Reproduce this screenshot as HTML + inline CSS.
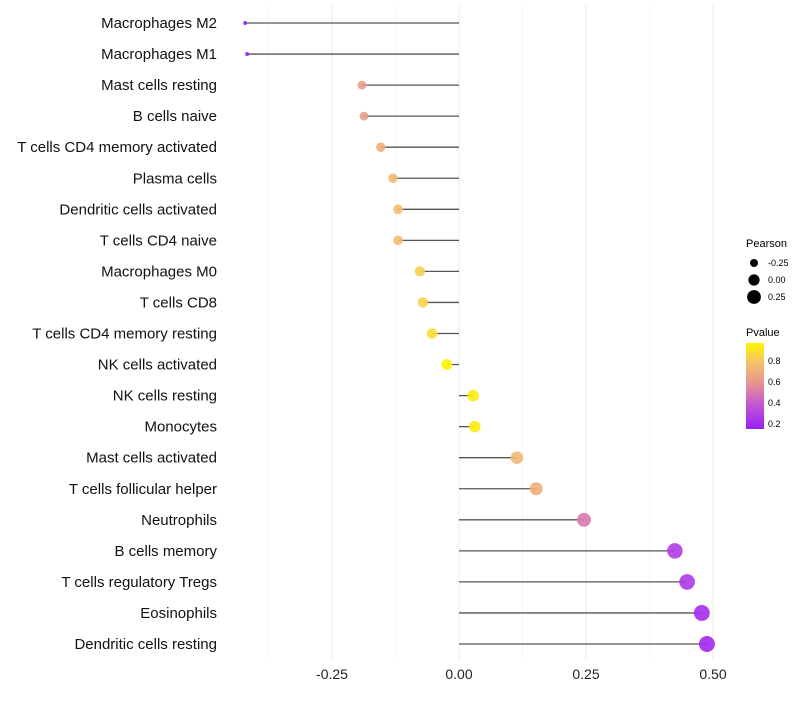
<!DOCTYPE html>
<html><head><meta charset="utf-8"><style>
body{margin:0;background:#fff;font-family:"Liberation Sans",sans-serif}
</style></head><body>
<svg id="c" width="800" height="700" xmlns="http://www.w3.org/2000/svg" font-family="Liberation Sans, sans-serif">
<defs><linearGradient id="pg" x1="0" y1="1" x2="0" y2="0">
<stop offset="0" stop-color="#9a1ef5"/><stop offset="0.3" stop-color="#c75ad0"/><stop offset="0.55" stop-color="#e8988c"/><stop offset="0.78" stop-color="#f5c46a"/><stop offset="1" stop-color="#fff500"/></linearGradient></defs>
<g id="grid"></g><g id="marks"></g><g id="labels"></g>
<g font-size="10">
<text x="746" y="247" font-size="11">Pearson</text>
<circle cx="754" cy="263" r="4" fill="#000"/><text x="768" y="266" font-size="9">-0.25</text>
<circle cx="754" cy="280" r="5.6" fill="#000"/><text x="768" y="283" font-size="9">0.00</text>
<circle cx="754" cy="297" r="6.9" fill="#000"/><text x="768" y="300" font-size="9">0.25</text>
<text x="746" y="336" font-size="11">Pvalue</text>
<rect x="746" y="343" width="18" height="86" fill="url(#pg)"/>
<text x="768" y="364" font-size="9">0.8</text><text x="768" y="385" font-size="9">0.6</text>
<text x="768" y="406" font-size="9">0.4</text><text x="768" y="427" font-size="9">0.2</text>
</g>
</svg>
<script>
const categories=["Macrophages M2","Macrophages M1","Mast cells resting","B cells naive","T cells CD4 memory activated","Plasma cells","Dendritic cells activated","T cells CD4 naive","Macrophages M0","T cells CD8","T cells CD4 memory resting","NK cells activated","NK cells resting","Monocytes","Mast cells activated","T cells follicular helper","Neutrophils","B cells memory","T cells regulatory  Tregs","Eosinophils","Dendritic cells resting"];
const pearson=[-0.421,-0.417,-0.191,-0.187,-0.154,-0.130,-0.120,-0.120,-0.077,-0.071,-0.053,-0.024,0.028,0.031,0.114,0.152,0.246,0.425,0.449,0.478,0.488];
const pvalue=[0.17,0.17,0.62,0.62,0.7,0.75,0.77,0.77,0.84,0.85,0.89,0.96,0.94,0.94,0.74,0.7,0.5,0.28,0.26,0.22,0.2];
const xTicks=[-0.25,0,0.25,0.5];
const xTickLabels=["-0.25","0.00","0.25","0.50"];
const NS="http://www.w3.org/2000/svg";
const x=v=>459+v*508;
const y=i=>23+i*31.05;
const rad=v=>Math.sqrt(Math.max(1,31.7+66*v));
const stops=[[0.16,[154,30,245]],[0.4,[199,90,208]],[0.6,[232,152,140]],[0.8,[245,196,106]],[0.97,[255,245,0]]];
function col(p){if(p<=stops[0][0])return`rgb(${stops[0][1]})`;for(let k=1;k<stops.length;k++){if(p<=stops[k][0]){const t=(p-stops[k-1][0])/(stops[k][0]-stops[k-1][0]);const a=stops[k-1][1],b=stops[k][1];return`rgb(${a.map((c,j)=>Math.round(c+(b[j]-c)*t))})`;}}return`rgb(${stops[stops.length-1][1]})`;}
function mk(t,a,p){const e=document.createElementNS(NS,t);for(const k in a)e.setAttribute(k,a[k]);p.appendChild(e);return e;}
const g=document.getElementById('grid'),m=document.getElementById('marks'),l=document.getElementById('labels');
[-0.375,-0.125,0.125,0.375].forEach(v=>{const e=mk('line',{x1:x(v),x2:x(v),y1:5,y2:660,stroke:'#f2f2f2','stroke-width':0.7},g);});
xTicks.forEach((v,i)=>{const e=mk('line',{x1:x(v),x2:x(v),y1:5,y2:660,stroke:'#ebebeb','stroke-width':1},g);
const t=mk('text',{x:x(v),y:679,'text-anchor':'middle','font-size':14,fill:'#222'},l);t.textContent=xTickLabels[i];});
categories.forEach((c,i)=>{
const s=mk('line',{x1:x(0),x2:x(pearson[i]),y1:y(i),y2:y(i),stroke:'#555','stroke-width':1.3},m);
const d=mk('circle',{cx:x(pearson[i]),cy:y(i),r:rad(pearson[i]),fill:col(pvalue[i]),'fill-opacity':0.9},m);
const t=mk('text',{x:217,y:y(i)+5,'text-anchor':'end','font-size':15,fill:'#111'},l);t.textContent=c;
});
</script>
</body></html>
